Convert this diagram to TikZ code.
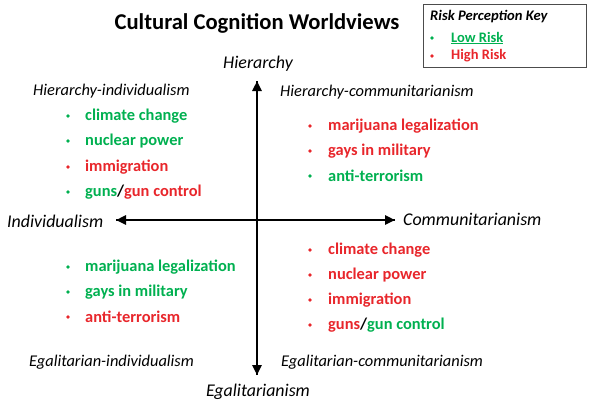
\documentclass[tikz,border=0pt]{standalone}
\usepackage{fontspec}
\setmainfont{Carlito}
\usetikzlibrary{arrows.meta}
\definecolor{lowc}{HTML}{00B050}
\definecolor{highc}{HTML}{E8262B}
\tikzset{
  itm/.style={anchor=west, inner sep=0pt, font=\fontsize{16.4}{18}\selectfont\bfseries},
  keyitm/.style={anchor=west, inner sep=0pt, font=\fontsize{14.5}{16}\selectfont\bfseries},
  dot/.style={circle, inner sep=0pt, minimum size=3.6pt, fill=#1},
  quad/.style={anchor=west, inner sep=0pt, font=\fontsize{16.4}{18}\selectfont\itshape},
  axl/.style={inner sep=0pt, font=\fontsize{17.9}{20}\selectfont\itshape},
  axis/.style={line width=2.6pt, -{Triangle[width=9pt,length=10pt]}},
}
\begin{document}
\begin{tikzpicture}[x=1pt,y=-1pt]
\useasboundingbox (0,0) rectangle (594,405);
% title
\node[font=\fontsize{22.6}{26}\selectfont\bfseries, inner sep=0pt] (title) at (257,23) {Cultural Cognition Worldviews};
% key
\node[draw=black!70, line width=0.8pt, minimum width=163pt, minimum height=63pt, anchor=north west, inner sep=0pt] (keybox) at (423,4) {};
\node[font=\fontsize{14.6}{16}\selectfont\bfseries\itshape, anchor=west, inner sep=0pt] (keyt) at (430,17) {Risk Perception Key};
\node[dot=lowc] (kb1) at (432,38) {};
\node[keyitm, text=lowc] (kl) at (451,38) {\underline{Low Risk}};
\node[dot=highc] (kb2) at (432,56) {};
\node[keyitm, text=highc] (kh) at (451,56) {High Risk};
% axes
\coordinate (vt) at (257,81);
\coordinate (vb) at (257,375);
\coordinate (hl) at (116,220);
\coordinate (hr) at (395,220);
\draw[axis] (vb) -- (vt);
\draw[axis] (hr) -- (hl);
\draw[axis] (hl) -- (hr);
\draw[axis] (vt) -- (vb);
\node[axl] (hier) at (258,64) {Hierarchy};
\node[axl] (egal) at (258,392) {Egalitarianism};
\node[axl, anchor=west] (indiv) at (7,221) {Individualism};
\node[axl, anchor=west] (comm) at (403,219) {Communitarianism};
% quadrant labels
\node[quad] (hi) at (33,91) {Hierarchy-individualism};
\node[quad] (hc) at (280,92) {Hierarchy-communitarianism};
\node[quad] (ei) at (29,362) {Egalitarian-individualism};
\node[quad] (ec) at (281,362) {Egalitarian-communitarianism};
% top-left
\node[dot=lowc] (a1b) at (68,116) {};
\node[itm, text=lowc] (a1) at (85,116) {climate change};
\node[dot=lowc] (a2b) at (68,141) {};
\node[itm, text=lowc] (a2) at (85,141) {nuclear power};
\node[dot=highc] (a3b) at (68,167) {};
\node[itm, text=highc] (a3) at (85,167) {immigration};
\node[dot=lowc] (a4b) at (68,192) {};
\node[itm] (a4) at (85,192) {\textcolor{lowc}{guns}/\textcolor{highc}{gun control}};
% top-right
\node[dot=highc] (c1b) at (310,126) {};
\node[itm, text=highc] (c1) at (328,126) {marijuana legalization};
\node[dot=highc] (c2b) at (310,151) {};
\node[itm, text=highc] (c2) at (328,151) {gays in military};
\node[dot=lowc] (c3b) at (310,176) {};
\node[itm, text=lowc] (c3) at (328,176) {anti-terrorism};
% bottom-left
\node[dot=lowc] (d1b) at (68,267) {};
\node[itm, text=lowc] (d1) at (85,267) {marijuana legalization};
\node[dot=lowc] (d2b) at (68,292) {};
\node[itm, text=lowc] (d2) at (85,292) {gays in military};
\node[dot=highc] (d3b) at (68,317) {};
\node[itm, text=highc] (d3) at (85,317) {anti-terrorism};
% bottom-right
\node[dot=highc] (e1b) at (310,250) {};
\node[itm, text=highc] (e1) at (328,250) {climate change};
\node[dot=highc] (e2b) at (310,275) {};
\node[itm, text=highc] (e2) at (328,275) {nuclear power};
\node[dot=highc] (e3b) at (310,300) {};
\node[itm, text=highc] (e3) at (328,300) {immigration};
\node[dot=highc] (e4b) at (310,325) {};
\node[itm] (e4) at (328,325) {\textcolor{highc}{guns}/\textcolor{lowc}{gun control}};
\end{tikzpicture}
\end{document}
